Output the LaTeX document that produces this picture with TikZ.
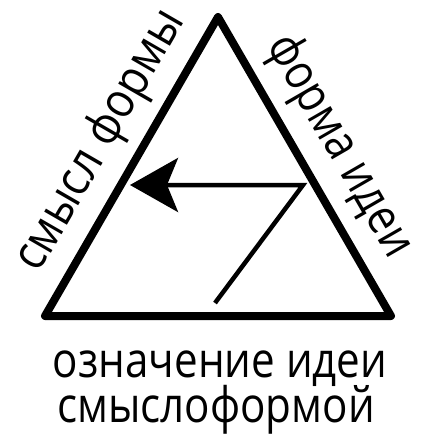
\documentclass[tikz,border=0pt]{standalone}
\usepackage{fontspec}
\usepackage{graphicx}
\setmainfont{Open Sans}
\usetikzlibrary{arrows.meta}
\newcommand{\narrowtext}[1]{\scalebox{0.86}[1]{#1}}
\begin{document}
\begin{tikzpicture}[x=1pt,y=-1pt,
  edge/.style={line width=8pt, line join=round, line cap=round},
  flow/.style={line width=4.5pt, line join=miter, -{Stealth[length=48pt,width=54pt,inset=11pt]}},
  lbl/.style={font=\fontsize{49pt}{45pt}\selectfont, inner sep=0pt, anchor=base}]
\useasboundingbox (0,0) rectangle (428,444);
\coordinate (A) at (218,17);
\coordinate (B) at (45,316);
\coordinate (C) at (391,316);
\draw[edge] (A) -- (B) -- (C) -- cycle;
\coordinate (start) at (215,303);
\coordinate (bend) at (303,185);
\coordinate (tip) at (130,185);
\draw[flow] (start) -- (bend) -- (tip);
\node[lbl, rotate=60] (left) at (112,147) {\scalebox{0.89}[1]{смысл формы}};
\node[lbl, rotate=-60] (right) at (328,153) {\narrowtext{форма идеи}};
\node[lbl] (bottom1) at (220,377) {\narrowtext{означение идеи}};
\node[lbl] (bottom2) at (216,422) {\narrowtext{смыслоформой}};
\end{tikzpicture}
\end{document}
